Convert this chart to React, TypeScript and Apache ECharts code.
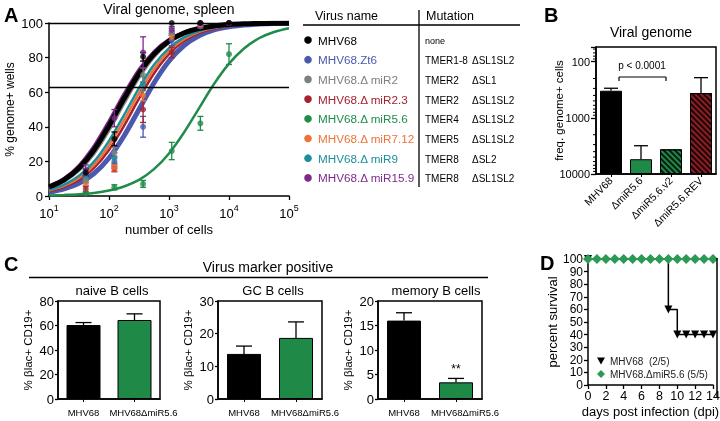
import React, { useEffect, useRef } from 'react';
import * as echarts from 'echarts';

const FONT = '"Liberation Sans", Arial, Helvetica, sans-serif';

// ---------------- Panel A : limiting dilution ----------------
const curveCells = [10, 17.8, 31.6, 56.2, 100, 178, 316, 562, 1000, 1778, 3162, 5623, 10000, 17783, 31623, 56234, 100000];
const curveMHV68 = [5.2, 9.3, 16.2, 26.6, 40.6, 56.3, 70.8, 82.0, 89.6, 94.2, 96.8, 98.3, 99.1, 99.5, 99.7, 99.9, 99.9];
const curveZt6 = [2.2, 4.1, 7.4, 13.0, 22.0, 34.7, 50.0, 65.3, 78.0, 87.0, 92.6, 96.0, 97.8, 98.8, 99.4, 99.7, 99.8];
const curveMiR2 = [4.6, 8.3, 14.5, 24.2, 37.6, 53.2, 68.1, 80.1, 88.4, 93.5, 96.4, 98.1, 99.0, 99.5, 99.7, 99.8, 99.9];
const curveMiR23 = [2.8, 5.2, 9.3, 16.2, 26.6, 40.6, 56.3, 70.8, 82.0, 89.6, 94.2, 96.8, 98.3, 99.1, 99.5, 99.7, 99.9];
const curveMiR56 = [0.3, 0.6, 1.0, 1.8, 3.2, 5.5, 9.3, 15.5, 24.6, 36.7, 50.7, 64.7, 76.5, 85.3, 91.2, 94.8, 97.0];
const curveMiR712 = [3.2, 5.8, 10.4, 17.9, 29.2, 43.7, 59.4, 73.4, 83.8, 90.7, 94.9, 97.2, 98.5, 99.2, 99.6, 99.8, 99.9];
const curveMiR9 = [3.6, 6.5, 11.7, 19.9, 31.9, 46.8, 62.4, 75.8, 85.5, 91.7, 95.4, 97.5, 98.7, 99.3, 99.6, 99.8, 99.9];
const curveMiR159 = [5.8, 10.4, 17.9, 29.2, 43.7, 59.4, 73.4, 83.8, 90.7, 94.9, 97.2, 98.5, 99.2, 99.6, 99.8, 99.9, 99.9];

const dilutionCells = [41, 123, 370, 1111, 3333, 10000];
const meanMHV68 = [13.5, 33, 80.5, 100, 100, 100];
const errMHV68 = [2, 4, 2.5, 0, 0, 0];
const meanZt6 = [11, 20, 40, 90, 98, 100];
const errZt6 = [2, 3, 6, 3, 1, 0];
const meanMiR2 = [9, 25, 70, 95, 100, 100];
const errMiR2 = [2, 3, 4, 2, 0, 0];
const meanMiR23 = [4, 16, 50, 83, 99, 100];
const errMiR23 = [1.5, 2, 7.5, 3, 1, 0];
const meanMiR56 = [1.5, 5, 7, 26, 42, 82];
const errMiR56 = [0.5, 1.5, 2, 5, 4, 6];
const meanMiR712 = [8, 16.5, 58, 92, 99, 100];
const errMiR712 = [2, 2, 3, 2, 1, 0];
const meanMiR9 = [10, 22, 65, 95, 100, 100];
const errMiR9 = [2, 3, 4, 2, 0, 0];
const meanMiR159 = [15, 45, 83, 96, 100, 100];
const errMiR159 = [3, 5, 9, 2, 0, 0];
const referenceLines = [63, 100];

const virusNames = ['MHV68', 'MHV68.Zt6', 'MHV68.\u0394 miR2', 'MHV68.\u0394 miR2.3', 'MHV68.\u0394 miR5.6', 'MHV68.\u0394 miR7.12', 'MHV68.\u0394 miR9', 'MHV68.\u0394 miR15.9'];
const mutationRegion = ['none', 'TMER1-8', 'TMER2', 'TMER2', 'TMER4', 'TMER5', 'TMER8', 'TMER8'];
const mutationStem = ['', '\u0394SL1SL2', '\u0394SL1', '\u0394SL1SL2', '\u0394SL1SL2', '\u0394SL1SL2', '\u0394SL2', '\u0394SL1SL2'];

// ---------------- Panel B ----------------
const bCategories = ['MHV68', '\u0394miR5.6', '\u0394miR5.6.v2', '\u0394miR5.6.REV'];
const bValues = [330, 5460, 3640, 363];
const bErrEnd = [298, 3140, null, 193];
const bMinorTicks = [60, 70, 80, 90, 200, 300, 400, 500, 600, 700, 800, 900, 2000, 3000, 4000, 5000, 6000, 7000, 8000, 9000];
const bPText = 'p < 0.0001';

// ---------------- Panel C ----------------
const cCategories = ['MHV68', 'MHV68\u0394miR5.6'];
const naiveValues = [60.4, 64.5];
const naiveErr = [2, 5];
const gcValues = [13.8, 18.7];
const gcErr = [2.4, 4.9];
const memoryValues = [16.0, 3.4];
const memoryErr = [1.6, 0.8];
const memorySignif = ['', '**'];

// ---------------- Panel D ----------------
const dDays = [0, 1, 2, 3, 4, 5, 6, 7, 8, 9, 10, 11, 12, 13, 14];
const dSurvMiR56 = [100, 100, 100, 100, 100, 100, 100, 100, 100, 100, 100, 100, 100, 100, 100];
const dDaysMHV68 = [0, 9, 10, 11, 12, 13, 14];
const dSurvMHV68 = [100, 60, 40, 40, 40, 40, 40];
const dLegend = ['MHV68  (2/5)', 'MHV68.\u0394miR5.6 (5/5)'];

// ---------------- styles ----------------
const virusColors = ['#000000', '#4a59ad', '#7f7f7f', '#a6202d', '#1f8c4a', '#f07238', '#1b8f9c', '#7d2b8b'];
const curveWidths = [5, 5, 2.5, 2.5, 2.5, 2.5, 2.5, 2.5];
const curveOrder = [1, 3, 5, 6, 2, 7, 0, 4];
const GREEN = '#1f8a48';

const axLine = { show: true, lineStyle: { color: '#000', width: 1.5 } };
const axTick = (len = 4) => ({ show: true, length: len, lineStyle: { color: '#000', width: 1.3 } });

function errSeries(xi: number, yi: number, rows: any[], color: string, capHalf: number, both: boolean, z = 4) {
  return {
    type: 'custom',
    xAxisIndex: xi,
    yAxisIndex: yi,
    silent: true,
    clip: false,
    z,
    data: rows,
    encode: { x: 0, y: [1, 2] },
    renderItem: (params: any, api: any) => {
      const x = api.value(0);
      const pa = api.coord([x, api.value(1)]);
      const pb = api.coord([x, api.value(2)]);
      const st = { stroke: color, lineWidth: 1.3 };
      const children: any[] = [
        { type: 'line', shape: { x1: pa[0], y1: pa[1], x2: pb[0], y2: pb[1] }, style: st },
        { type: 'line', shape: { x1: pb[0] - capHalf, y1: pb[1], x2: pb[0] + capHalf, y2: pb[1] }, style: st },
      ];
      if (both) children.push({ type: 'line', shape: { x1: pa[0] - capHalf, y1: pa[1], x2: pa[0] + capHalf, y2: pa[1] }, style: st });
      return { type: 'group', children };
    },
  };
}

function txt(text: string, x: number, y: number, size: number, opts: any = {}) {
  return {
    type: 'text',
    x,
    y,
    silent: true,
    z: 10,
    style: {
      text,
      fill: opts.fill || '#000',
      fontSize: size,
      fontFamily: FONT,
      fontWeight: opts.bold ? 'bold' : 'normal',
      align: opts.align || 'center',
      verticalAlign: 'middle',
    },
  };
}
function seg(x1: number, y1: number, x2: number, y2: number, w = 1.5) {
  return { type: 'line', silent: true, z: 10, shape: { x1, y1, x2, y2 }, style: { stroke: '#000', lineWidth: w } };
}

function buildOption() {
  const curves = [curveMHV68, curveZt6, curveMiR2, curveMiR23, curveMiR56, curveMiR712, curveMiR9, curveMiR159];
  const means = [meanMHV68, meanZt6, meanMiR2, meanMiR23, meanMiR56, meanMiR712, meanMiR9, meanMiR159];
  const errs = [errMHV68, errZt6, errMiR2, errMiR23, errMiR56, errMiR712, errMiR9, errMiR159];

  const series: any[] = [];
  // Panel A curves
  curveOrder.forEach((i) => {
    const s: any = {
      type: 'line',
      xAxisIndex: 0,
      yAxisIndex: 0,
      smooth: 0.3,
      showSymbol: false,
      silent: true,
      z: 2,
      data: curveCells.map((c, k) => [c, curves[i][k]]),
      lineStyle: { color: virusColors[i], width: curveWidths[i] },
      itemStyle: { color: virusColors[i] },
    };
    if (i === 4) {
      s.markLine = {
        silent: true,
        symbol: 'none',
        label: { show: false },
        lineStyle: { color: '#000', width: 1.3, type: 'solid' },
        data: referenceLines.map((v) => ({ yAxis: v })),
      };
    }
    series.push(s);
  });
  // Panel A points + error bars
  curveOrder.forEach((i) => {
    const rows: any[] = [];
    dilutionCells.forEach((c, k) => {
      if (errs[i][k] > 0) rows.push([c, means[i][k] - errs[i][k], means[i][k] + errs[i][k]]);
    });
    series.push(errSeries(0, 0, rows, virusColors[i], 3, true, 3));
    series.push({
      type: 'scatter',
      xAxisIndex: 0,
      yAxisIndex: 0,
      symbol: 'circle',
      symbolSize: 6,
      z: 3,
      silent: true,
      itemStyle: { color: virusColors[i] },
      data: dilutionCells.map((c, k) => [c, means[i][k]]),
    });
  });

  // Panel B
  const bColors = ['#000000', GREEN, GREEN, '#8e1c24'];
  const bHatch = [false, false, true, true];
  series.push({
    type: 'bar',
    xAxisIndex: 1,
    yAxisIndex: 1,
    barWidth: 22,
    z: 2,
    data: bValues.map((v, i) => ({
      value: v,
      itemStyle: {
        color: bColors[i],
        borderColor: '#000',
        borderWidth: 1,
        decal: bHatch[i]
          ? { symbol: 'rect', symbolSize: 1, dashArrayX: [1, 0], dashArrayY: [1.5, 1.5], rotation: Math.PI / 4, color: 'rgba(0,0,0,0.8)' }
          : 'none',
      },
    })),
  });
  series.push(
    errSeries(
      1,
      1,
      bValues.map((v, i) => (bErrEnd[i] == null ? null : [i, v, bErrEnd[i]])).filter((r) => r !== null),
      '#000',
      7,
      false,
      3
    )
  );
  series.push({
    type: 'custom',
    xAxisIndex: 1,
    yAxisIndex: 1,
    silent: true,
    clip: false,
    data: bMinorTicks.map((v) => [0, v]),
    encode: { x: 0, y: 1 },
    renderItem: (params: any, api: any) => {
      const p = api.coord([0, api.value(1)]);
      const cs = params.coordSys;
      return { type: 'line', shape: { x1: cs.x - 3, y1: p[1], x2: cs.x, y2: p[1] }, style: { stroke: '#000', lineWidth: 1 } };
    },
  });

  // Panel C
  const cPanels = [
    { v: naiveValues, e: naiveErr },
    { v: gcValues, e: gcErr },
    { v: memoryValues, e: memoryErr },
  ];
  cPanels.forEach((p, j) => {
    series.push({
      type: 'bar',
      xAxisIndex: 2 + j,
      yAxisIndex: 2 + j,
      barWidth: 34,
      z: 2,
      data: p.v.map((v, i) => ({ value: v, itemStyle: { color: i === 0 ? '#000' : GREEN, borderColor: '#000', borderWidth: 1 } })),
      label:
        j === 2
          ? {
              show: true,
              position: 'top',
              distance: 7,
              fontSize: 12,
              color: '#000',
              formatter: (pp: any) => memorySignif[pp.dataIndex],
            }
          : { show: false },
    });
    series.push(errSeries(2 + j, 2 + j, p.v.map((v, i) => [i, v, v + p.e[i]]), '#000', 8, false, 3));
  });

  // Panel D
  series.push({
    name: dLegend[0],
    type: 'line',
    xAxisIndex: 5,
    yAxisIndex: 5,
    step: 'end',
    symbol: 'triangle',
    symbolRotate: 180,
    symbolSize: 8,
    z: 2,
    color: '#000',
    lineStyle: { color: '#000', width: 1.5 },
    data: dDaysMHV68.map((d, i) => [d, dSurvMHV68[i]]),
  });
  series.push({
    name: dLegend[1],
    type: 'line',
    xAxisIndex: 5,
    yAxisIndex: 5,
    symbol: 'diamond',
    symbolSize: 10,
    z: 3,
    color: '#2a9a55',
    lineStyle: { color: '#2a9a55', width: 1.5 },
    data: dDays.map((d, i) => [d, dSurvMiR56[i]]),
  });

  const gridBase = { containLabel: false, outerBoundsMode: 'none' };
  const boxed = { show: true, borderColor: '#000', borderWidth: 1.5, backgroundColor: 'transparent' };

  const cYAxis = (idx: number, max: number, interval: number) => ({
    type: 'value',
    gridIndex: idx,
    min: 0,
    max,
    interval,
    axisLine: axLine,
    axisTick: axTick(3),
    splitLine: { show: false },
    axisLabel: { fontSize: 13, color: '#000', margin: 4 },
    name: '% \u03B2lac+ CD19+',
    nameLocation: 'middle',
    nameRotate: 90,
    nameGap: 24,
    nameTextStyle: { fontSize: 11.5, color: '#000' },
  });
  const cXAxis = (idx: number) => ({
    type: 'category',
    gridIndex: idx,
    data: cCategories,
    axisLine: axLine,
    axisTick: { show: true, alignWithLabel: true, length: 3, lineStyle: { color: '#000' } },
    axisLabel: {
      fontSize: 9.5,
      color: '#000',
      margin: 8,
      interval: 0,
      formatter: (v: string, i: number) => (i === 1 ? `{r|${v}}` : v),
      rich: { r: { fontSize: 9.5, color: '#000', fontFamily: FONT, padding: [0, 0, 0, 18] } },
    },
  });

  const rowY = (i: number) => 40 + i * 19.7;
  const legendEls: any[] = [
    txt('Virus name', 315, 16, 12.5, { align: 'left' }),
    txt('Mutation', 426, 16, 12.5, { align: 'left' }),
    seg(303, 25, 520, 25, 1.3),
    seg(419, 10, 419, 187, 1.3),
  ];
  virusNames.forEach((n, i) => {
    legendEls.push({ type: 'circle', silent: true, z: 10, shape: { cx: 308, cy: rowY(i), r: 3.8 }, style: { fill: virusColors[i] } });
    legendEls.push(txt(n, 318, rowY(i), 11.7, { align: 'left', fill: virusColors[i] }));
    legendEls.push(txt(mutationRegion[i], 425, rowY(i) + 1, i === 0 ? 9 : 10, { align: 'left' }));
    if (mutationStem[i]) legendEls.push(txt(mutationStem[i], 472, rowY(i) + 1, 10, { align: 'left' }));
  });

  return {
    animation: false,
    textStyle: { fontFamily: FONT, color: '#000' },
    grid: [
      { ...gridBase, left: 49, top: 23, width: 240, height: 173 },
      { ...gridBase, ...boxed, left: 596, top: 47, width: 120, height: 127 },
      { ...gridBase, ...boxed, left: 58, top: 301, width: 102, height: 98 },
      { ...gridBase, ...boxed, left: 218, top: 301, width: 104, height: 98 },
      { ...gridBase, ...boxed, left: 378, top: 301, width: 104, height: 98 },
      { ...gridBase, left: 588, top: 259, width: 125, height: 126 },
    ],
    xAxis: [
      {
        type: 'log',
        logBase: 10,
        gridIndex: 0,
        min: 10,
        max: 100000,
        axisLine: axLine,
        axisTick: axTick(4),
        splitLine: { show: false },
        axisLabel: {
          margin: 7,
          formatter: (v: number) => `{b|10}{s|${Math.round(Math.log10(v))}}`,
          rich: {
            b: { fontSize: 13, fontFamily: FONT, color: '#000', lineHeight: 17, verticalAlign: 'bottom' },
            s: { fontSize: 9, fontFamily: FONT, color: '#000', lineHeight: 10, verticalAlign: 'top' },
          },
        },
        name: 'number of cells',
        nameLocation: 'middle',
        nameGap: 27,
        nameTextStyle: { fontSize: 13, color: '#000' },
      },
      {
        type: 'category',
        gridIndex: 1,
        data: bCategories,
        axisLine: axLine,
        axisTick: { show: true, alignWithLabel: true, length: 3, lineStyle: { color: '#000' } },
        axisLabel: { rotate: 45, interval: 0, fontSize: 10.5, color: '#000', margin: 5 },
      },
      cXAxis(2),
      cXAxis(3),
      cXAxis(4),
      {
        type: 'value',
        gridIndex: 5,
        min: 0,
        max: 14,
        interval: 2,
        axisLine: axLine,
        axisTick: axTick(4),
        splitLine: { show: false },
        axisLabel: { fontSize: 12.5, color: '#000', margin: 4 },
        name: 'days post infection (dpi)',
        nameLocation: 'middle',
        nameGap: 20,
        nameTextStyle: { fontSize: 13, color: '#000' },
      },
    ],
    yAxis: [
      {
        type: 'value',
        gridIndex: 0,
        min: 0,
        max: 100,
        interval: 20,
        axisLine: axLine,
        axisTick: axTick(4),
        splitLine: { show: false },
        axisLabel: { fontSize: 13, color: '#000', margin: 6 },
        name: '% genome+ wells',
        nameLocation: 'middle',
        nameRotate: 90,
        nameGap: 33,
        nameTextStyle: { fontSize: 12, color: '#000' },
      },
      {
        type: 'log',
        logBase: 10,
        gridIndex: 1,
        inverse: true,
        min: 55,
        max: 10000,
        startValue: 10000,
        axisLine: axLine,
        axisTick: axTick(5),
        splitLine: { show: false },
        axisLabel: {
          fontSize: 11,
          color: '#000',
          margin: 6,
          formatter: (v: number) => {
            const l = Math.log10(v);
            return Math.abs(l - Math.round(l)) < 1e-6 ? String(Math.round(v)) : '';
          },
        },
        name: 'freq. genome+ cells',
        nameLocation: 'middle',
        nameRotate: 90,
        nameGap: 31,
        nameMoveOverlap: false,
        nameTextStyle: { fontSize: 11.5, color: '#000' },
      },
      cYAxis(2, 80, 20),
      cYAxis(3, 30, 10),
      cYAxis(4, 20, 5),
      {
        type: 'value',
        gridIndex: 5,
        min: 0,
        max: 100,
        interval: 10,
        axisLine: axLine,
        axisTick: axTick(4),
        splitLine: { show: false },
        axisLabel: { fontSize: 12, color: '#000', margin: 5 },
        name: 'percent survival',
        nameLocation: 'middle',
        nameRotate: 90,
        nameGap: 27,
        nameTextStyle: { fontSize: 13, color: '#000' },
      },
    ],
    legend: {
      data: [
        { name: dLegend[0], icon: 'path://M0,0L10,0L5,9Z' },
        { name: dLegend[1], icon: 'diamond' },
      ],
      left: 597,
      top: 356,
      orient: 'vertical',
      itemWidth: 8,
      itemHeight: 8,
      itemGap: 3,
      padding: 0,
      textStyle: { fontSize: 10, color: '#222', fontFamily: FONT },
    },
    series,
    graphic: {
      elements: [
        txt('A', 4, 15, 20, { bold: true, align: 'left' }),
        txt('B', 544, 15, 20, { bold: true, align: 'left' }),
        txt('C', 4, 264, 20, { bold: true, align: 'left' }),
        txt('D', 540, 263, 20, { bold: true, align: 'left' }),
        txt('Viral genome, spleen', 169, 9, 14),
        txt('Viral genome', 651, 32, 14),
        txt(bPText, 642, 65, 10),
        seg(619, 81, 619, 77, 1.2),
        seg(619, 77, 666, 77, 1.2),
        seg(666, 77, 666, 81, 1.2),
        txt('Virus marker positive', 268, 267, 14),
        seg(29, 277.5, 488, 277.5, 1.5),
        txt('naive B cells', 112, 290, 13),
        txt('GC B cells', 273, 290, 13),
        txt('memory B cells', 436, 290, 13),
        seg(717, 258, 717, 397, 1.5),
        ...legendEls,
      ],
    },
  };
}

export default function App() {
  const ref = useRef<HTMLDivElement>(null);
  useEffect(() => {
    if (!ref.current) return;
    const chart = echarts.init(ref.current, null, { renderer: 'svg' });
    chart.setOption(buildOption() as any);
    return () => chart.dispose();
  }, []);
  return <div ref={ref} style={{ position: 'fixed', left: 0, top: 0, width: 720, height: 421 }} />;
}
